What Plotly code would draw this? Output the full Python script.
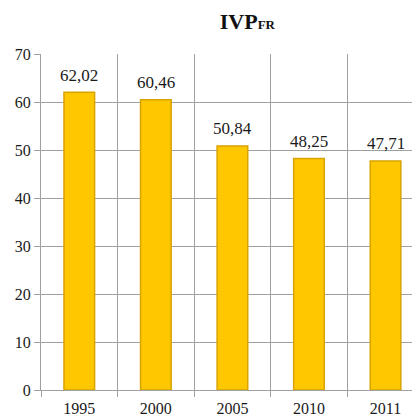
import plotly.graph_objects as go

years = ["1995", "2000", "2005", "2010", "2011"]
values = [62.02, 60.46, 50.84, 48.25, 47.71]
labels = ["62,02", "60,46", "50,84", "48,25", "47,71"]
y_ticks = [0, 10, 20, 30, 40, 50, 60, 70]

font_family = "Liberation Serif"
grid = "#a0a0a0"

fig = go.Figure(go.Bar(
    x=years, y=values,
    marker=dict(color="#FFC700", line=dict(color="#D9A300", width=1.5)),
    width=0.4,
))

for i, (v, lab) in enumerate(zip(values, labels)):
    fig.add_annotation(
        x=i, y=v, xref="x", yref="y", text=lab, showarrow=False,
        yanchor="middle", yshift=17,
        font=dict(family=font_family, size=17, color="#1a1a1a"),
    )

fig.update_layout(
    width=412, height=409,
    margin=dict(l=33, r=0, t=46, b=27),
    paper_bgcolor="white", plot_bgcolor="white",
    showlegend=False,
    title=dict(
        text="<b>IVP<span style='font-size:13px'>FR</span></b>",
        x=0.581, xanchor="center", y=0.968, yanchor="middle",
        font=dict(family=font_family, size=22, color="#111"),
    ),
    font=dict(family=font_family, size=16, color="#1a1a1a"),
)
fig.update_xaxes(
    type="category", tickson="boundaries", showgrid=True,
    gridcolor=grid, gridwidth=1,
    ticks="outside", ticklen=6, tickcolor=grid,
    showline=True, linecolor=grid,
    tickfont=dict(family=font_family, size=16, color="#1a1a1a"),
    ticklabelstandoff=4,
    range=[-0.5, 4.45],
)
fig.update_yaxes(
    range=[0, 70], tickvals=y_ticks, showgrid=True,
    gridcolor=grid, gridwidth=1,
    ticks="outside", ticklen=6, tickcolor=grid,
    showline=True, linecolor=grid, zeroline=False,
    tickfont=dict(family=font_family, size=16, color="#1a1a1a"),
)

fig.write_html("out.html")
